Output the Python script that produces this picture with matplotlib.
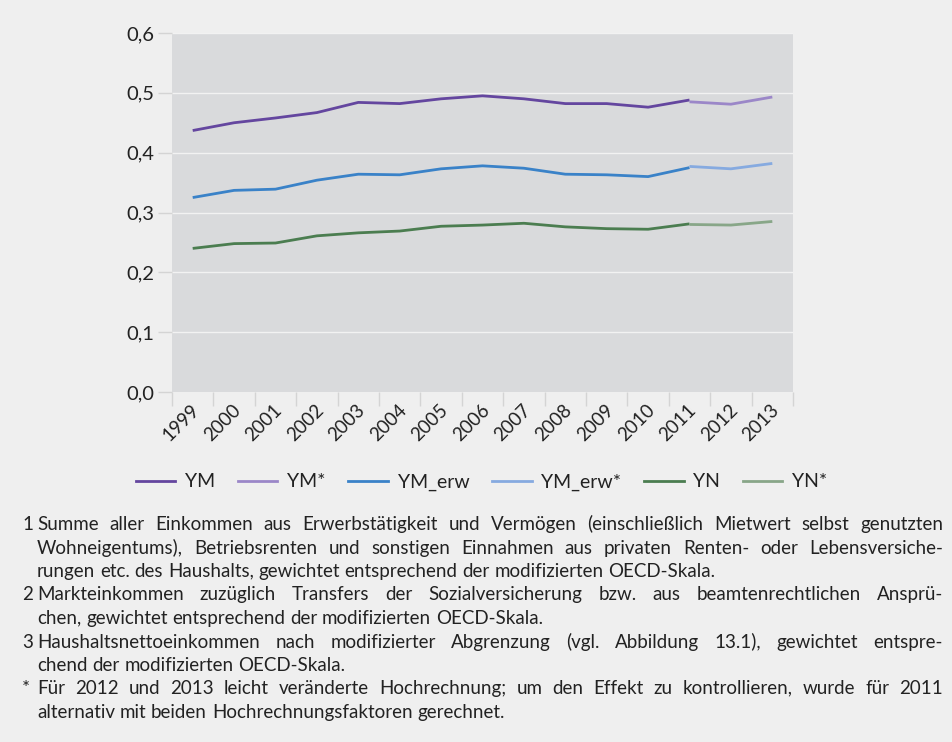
import math
import matplotlib
matplotlib.use("Agg")
import matplotlib.pyplot as plt
import matplotlib.transforms as mtransforms
from matplotlib.lines import Line2D
from matplotlib.font_manager import FontProperties, fontManager, get_font
from matplotlib.backends.backend_agg import get_hinting_flag
import numpy as np

years = ["1999", "2000", "2001", "2002", "2003", "2004", "2005", "2006",
         "2007", "2008", "2009", "2010", "2011", "2012", "2013"]
ym = [0.437, 0.450, 0.458, 0.467, 0.484, 0.482, 0.490, 0.495,
      0.490, 0.482, 0.482, 0.476, 0.488]
ym_star = [0.485, 0.481, 0.493]
ym_erw = [0.325, 0.337, 0.339, 0.354, 0.364, 0.363, 0.373, 0.378,
          0.374, 0.364, 0.363, 0.360, 0.375]
ym_erw_star = [0.377, 0.373, 0.382]
yn = [0.240, 0.248, 0.249, 0.261, 0.266, 0.269, 0.277, 0.279,
      0.282, 0.276, 0.273, 0.272, 0.281]
yn_star = [0.280, 0.279, 0.285]
yticks = [0.0, 0.1, 0.2, 0.3, 0.4, 0.5, 0.6]
ytick_labels = ["0,0", "0,1", "0,2", "0,3", "0,4", "0,5", "0,6"]
legend_labels = ["YM", "YM*", "YM_erw", "YM_erw*", "YN", "YN*"]

footnotes = [
    ("1", "Summe aller Einkommen aus Erwerbstätigkeit und Vermögen (einschließlich Mietwert selbst genutzten", True),
    ("", "Wohneigentums), Betriebsrenten und sonstigen Einnahmen aus privaten Renten- oder Lebensversiche-", True),
    ("", "rungen etc. des Haushalts, gewichtet entsprechend der modifizierten OECD-Skala.", False),
    ("2", "Markteinkommen zuzüglich Transfers der Sozialversicherung bzw. aus beamtenrechtlichen Ansprü-", True),
    ("", "chen, gewichtet entsprechend der modifizierten OECD-Skala.", False),
    ("3", "Haushaltsnettoeinkommen nach modifizierter Abgrenzung (vgl. Abbildung 13.1), gewichtet entspre-", True),
    ("", "chend der modifizierten OECD-Skala.", False),
    ("*", "Für 2012 und 2013 leicht veränderte Hochrechnung; um den Effekt zu kontrollieren, wurde für 2011", True),
    ("", "alternativ mit beiden Hochrechnungsfaktoren gerechnet.", False),
]

colors = ["#64469f", "#9b87c8", "#3a82c8", "#86aae0", "#4b7d50", "#88a688"]
FONT = ["Lato", "DejaVu Sans"]
plt.rcParams["font.family"] = FONT
TXT = "#222222"

W, H = 952, 742
DPI = 100
fig = plt.figure(figsize=(W / DPI, H / DPI), dpi=DPI, facecolor="#efefef")
ax = fig.add_axes([172 / W, 1 - 392 / H, (793 - 172) / W, (392 - 33) / H])
ax.set_facecolor("#d9dadc")

x = np.arange(len(years))
n_main = len(ym)
xs_main = x[:n_main]
xs_star = x[n_main - 1:]
lw = 2.0
series = [(xs_main, ym), (xs_star, ym_star), (xs_main, ym_erw),
          (xs_star, ym_erw_star), (xs_main, yn), (xs_star, yn_star)]
for (xx, yy), c in zip(series, colors):
    ax.plot(xx, yy, color=c, lw=lw, solid_capstyle="butt", zorder=3)

ax.set_xlim(-0.5, len(years) - 0.5)
ax.set_ylim(0, 0.6)
for s in ax.spines.values():
    s.set_visible(False)

ax.set_yticks(yticks)
ax.set_yticklabels(ytick_labels)
for yv in yticks[1:]:
    ax.axhline(yv, color="#f2f2f2", lw=1.0, zorder=1)
ax.tick_params(axis="y", length=10, width=1, color="#d4d4d4", pad=3,
               labelsize=14.5, labelcolor=TXT)

ax.set_xticks(x)
ax.set_xticklabels(years, rotation=45, ha="right", va="center",
                   rotation_mode="anchor")
ax.set_xticks(np.arange(-0.5, len(years), 1.0), minor=True)
ax.tick_params(axis="x", which="major", length=0, pad=11, labelsize=13.5,
               labelcolor=TXT)
ax.tick_params(axis="x", which="minor", length=10, width=1, color="#d4d4d4")
shift = mtransforms.ScaledTranslation(4 / DPI, 0, fig.dpi_scale_trans)
for lab in ax.get_xticklabels():
    lab.set_transform(lab.get_transform() + shift)

handles = [Line2D([0], [0], color=c, lw=2.0) for c in colors]
fig.legend(handles, legend_labels, loc="center", ncol=6,
           bbox_to_anchor=(481.5 / W, 1 - 482 / H), frameon=False,
           fontsize=14, handlelength=2.05, handletextpad=0.5,
           columnspacing=1.15, labelcolor=TXT)

# footnotes with justified lines
renderer = fig.canvas.get_renderer()
FS = 13.5
left_num = 22
left_txt = 37
right_txt = 943
base0 = 530
dy = 23.5

prop = FontProperties(family=FONT, size=FS)
ftfont = get_font(fontManager._find_fonts_by_props(prop))


def baseline_fix(word, target):
    # choose a baseline so that Agg's pixel rounding puts every word's
    # baseline on the same pixel row
    ftfont.clear()
    ftfont.set_size(FS, DPI)
    ftfont.set_text(word, 0, flags=get_hinting_flag())
    d64 = ftfont.get_descent()
    w64, h64 = ftfont.get_width_height()
    ymax64 = h64 - d64
    D = d64 / 64.0
    Ymx = ymax64 / 64.0
    return target + math.floor(Ymx + D) - math.floor(Ymx) - D


def width_of(s):
    t = fig.text(0, 0, s, fontsize=FS)
    w = t.get_window_extent(renderer).width
    t.remove()
    return w


def put(word, xpix, target):
    b = baseline_fix(word, target)
    fig.text(xpix / W, (H - b) / H, word, fontsize=FS, color=TXT,
             va="baseline")

space_w = width_of("a a") - width_of("aa")
for i, (num, line, just) in enumerate(footnotes):
    target = round(base0 + i * dy)
    if num:
        put(num, left_num, target)
    words = line.split(" ")
    widths = [width_of(w_) for w_ in words]
    if just and len(words) > 1:
        gap = (right_txt - left_txt - sum(widths)) / (len(words) - 1)
    else:
        gap = space_w
    xp = left_txt
    for w_, ww in zip(words, widths):
        put(w_, xp, target)
        xp += ww + gap

fig.savefig("out.png", dpi=DPI, facecolor=fig.get_facecolor())
